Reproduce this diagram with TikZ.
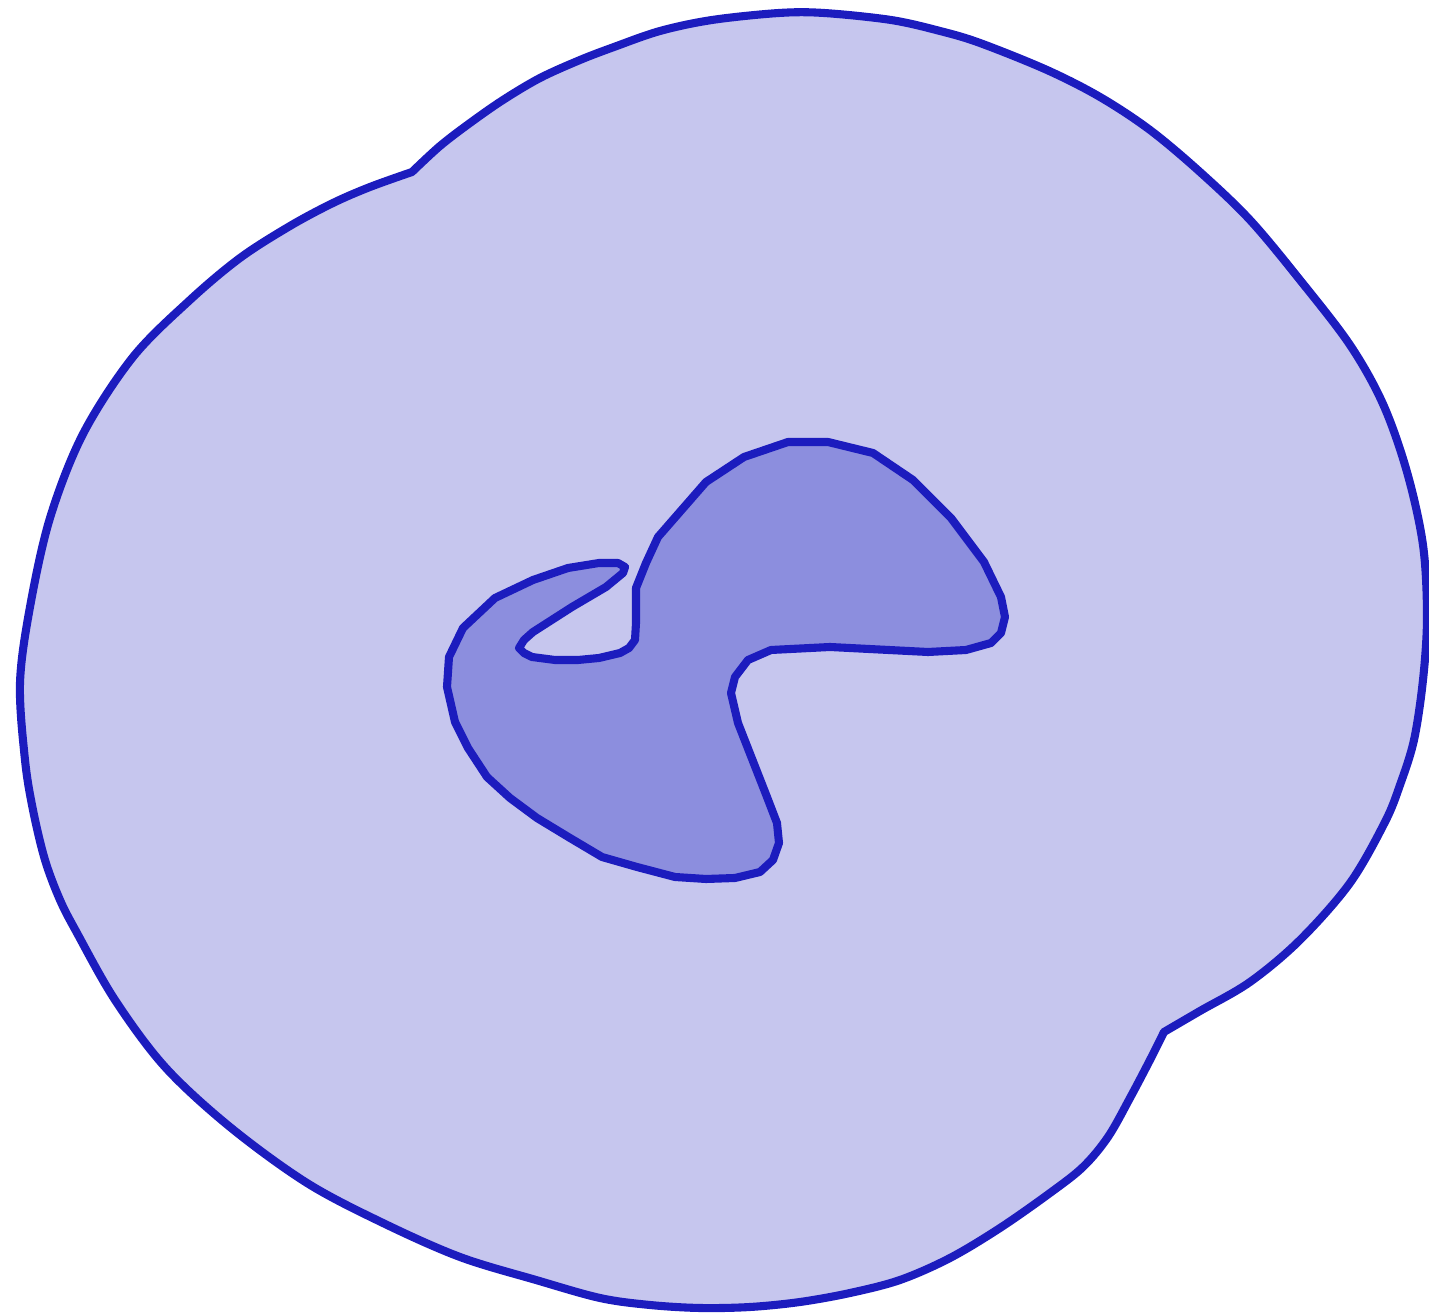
\documentclass[tikz,border=0pt]{standalone}
\usepackage{tikz}
\usepackage{xcolor}
\definecolor{rim}{HTML}{1C1CBE}
\definecolor{pale}{HTML}{C6C6EE}
\definecolor{core}{HTML}{8C8EDE}

\begin{document}
\begin{tikzpicture}[
          x=0.01cm, y=-0.01cm,
          outer/.style={draw=rim, fill=pale, line width=2.3pt, line join=round},
          inner/.style={draw=rim, fill=core, line width=2.3pt, line join=round}
        ]
        \useasboundingbox (0,0) rectangle (1429,1316);

        % outer blob, two kinks at top left and bottom right
        \draw[outer] plot[smooth, tension=0.55] coordinates {
            (412,172) (440,146) (470,123) (503,100) (540,78) (580,60) (614,47)
            (660,31) (712,20) (779,13) (824,13) (891,20) (940,31) (980,43)
            (1047,70) (1100,97) (1150,130) (1200,172) (1250,220) (1300,280)
            (1350,345) (1383,404) (1407,472) (1423,545) (1427,617) (1423,680)
            (1414,740) (1400,785) (1385,822) (1350,883) (1300,940) (1250,982)
            (1200,1011) (1164,1032)}
          -- plot[smooth, tension=0.55] coordinates {
            (1164,1032) (1150,1060) (1130,1098) (1108,1137) (1083,1167)
            (1050,1193) (1000,1228) (950,1258) (900,1280) (850,1293) (800,1302)
            (750,1307) (700,1308) (650,1305) (600,1298) (536,1280) (460,1257)
            (383,1223) (307,1183) (230,1127) (165,1067) (115,1000) (77,933)
            (60,900) (45,860) (33,810) (25,760) (20,683) (30,607) (50,518)
            (83,434) (133,357) (190,300) (240,258) (290,226) (333,203) (370,187)
            (412,172)}
          -- cycle;

        % inner hook
        \draw[inner] (788,442) -- (828,442) -- (873,453) -- (913,480) -- (951,518)
          -- (984,562) -- (1001,597) -- (1005,617) -- (1001,633) -- (991,643)
          -- (966,650) -- (928,652) -- (830,647) -- (771,650) -- (748,660)
          -- (735,677) -- (731,693) -- (738,723) -- (767,797) -- (777,823)
          -- (779,843) -- (773,860) -- (760,872) -- (735,878) -- (706,879)
          -- (675,877) -- (637,867) -- (602,857) -- (570,838) -- (537,818)
          -- (510,798) -- (487,777) -- (468,748) -- (455,722) -- (447,687)
          -- (449,657) -- (463,628) -- (495,598) -- (533,580) -- (568,568)
          -- (599,563) -- (618,563) -- (625,567) -- (623,573) -- (606,587)
          -- (572,607) -- (533,632) -- (524,640) -- (519,648) -- (524,653)
          -- (532,657) -- (555,660) -- (578,660) -- (599,658) -- (620,653)
          -- (629,648) -- (635,640) -- (636,623) -- (636,588) -- (646,563)
          -- (658,537) -- (706,482) -- (744,457) -- cycle;
      \end{tikzpicture}
\end{document}
